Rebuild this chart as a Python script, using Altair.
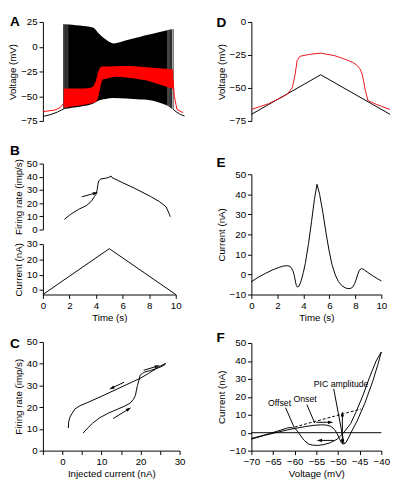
import altair as alt
import pandas as pd

FONT = "Liberation Sans"
ARROW = "M0,-1L0.6,1L-0.6,1Z"

# ---------------- Panel A: voltage with spikes (black) and red trace ----------------
a_pre_t = [0, 0.6, 1.1, 1.4, 1.57]
a_pre_black = [-70.5, -68.5, -66, -64, -63]
a_post_t = [9.84, 10.1, 10.4, 10.7]
a_post_black = [-63.3, -66, -68.5, -70]
a_env_t = [1.9, 2.5, 3.06, 3.78, 4.26, 4.73, 5.34, 6.3, 7.37, 7.86, 8.6, 9.4]
a_env_top = [22.5, 21.8, 21.0, 19.5, 13.0, 7.5, 3.3, 6.5, 10.1, 11.8, 14.2, 16.8]
a_env_bot = [-62.4, -61.2, -60.0, -57.5, -54.1, -52.8, -51.9, -52.4, -53.2, -53.5, -55.5, -59.5]
a_spk_t = [1.57, 1.64, 1.71, 1.78, 1.85, 1.9, 9.4, 9.48, 9.56, 9.64, 9.72, 9.84]
a_spk_top = [22.8, 22.7, 22.7, 22.6, 22.6, 22.5, 16.8, 17.1, 17.3, 17.5, 17.7, 17.9]
a_spk_bot = [-63.3, -63, -62.9, -62.7, -62.5, -62.4, -59.5, -60.2, -61, -61.8, -62.5, -63.3]
a_red_pre_t = [0, 0.9, 1.3, 1.57]
a_red_pre_v = [-65.6, -64, -61.5, -57]
a_red_t = [1.57, 3.06, 3.42, 3.78, 3.99, 4.14, 4.28, 4.37, 4.5, 5.45, 5.94, 6.65, 7.86, 8.09, 9.77, 9.84]
a_red_up = [-42.3, -42.2, -42, -40.7, -35, -27, -22, -20.5, -20, -19.6, -19.5, -19.5, -20.7, -21, -22.7, -23]
a_red_lo = [-61.6, -59, -58, -56.8, -55.5, -53, -45, -39, -33, -30.2, -30.5, -31.5, -34, -35, -42.2, -43]
a_red_post_t = [9.84, 9.93, 10.13, 10.49, 10.6]
a_red_post_v = [-33, -50, -63.3, -66, -66.3]

# ---------------- Panel B: firing rate and injected current vs time ----------------
bf_t = [1.61, 2.09, 2.69, 3.29, 3.65, 3.88, 4.0, 4.07, 4.14, 4.2, 4.36, 4.72, 4.96, 5.13, 5.2,
        5.92, 6.88, 8.08, 8.8, 9.28, 9.52, 9.59]
bf_r = [7.7, 11.6, 15.3, 18.3, 21.5, 25.0, 26.8, 29.5, 34.0, 36.9, 38.4, 38.9, 39.6, 40.6, 39.4,
        35.9, 31.4, 25.2, 21.0, 17.1, 11.6, 9.7]
b_arrow = {"x1": [2.93], "y1": [24.8], "x2": [3.96], "y2": [27.7], "ang": [74]}
bc_t = [0, 5, 10]
bc_i = [-3, 27, -3]

# ---------------- Panel C: firing rate vs injected current ----------------
c_i = [5.3, 6.5, 7.7, 9.5, 11.8, 14, 15.8, 17.3, 18.2, 18.7, 18.9, 19.2, 19.6, 19.9, 20.5, 21.1,
       22.5, 23.9, 25.2, 26.2, 26.4, 25.5, 22, 19.9, 15, 10.1, 6.5, 4.5, 3.2, 2.4, 1.9, 1.6, 1.5]
c_r = [8.1, 10.5, 12.6, 15.1, 17.3, 19, 20.4, 21.8, 23.7, 25.5, 27.4, 30, 32.5, 34.8, 35.6, 36.2,
       36.9, 37.7, 38.6, 39.5, 40.2, 39.4, 35.5, 33.3, 29.2, 25.1, 22.2, 20.7, 19.2, 17, 15.3, 13.3, 10.4]
c_arrow = {"x1": [20.8, 15.8, 13.0], "y1": [37.0, 31.5, 14.8],
           "x2": [24.3, 12.6, 17.0], "y2": [38.9, 28.8, 19.2], "ang": [73, 246, 59]}

# ---------------- Panel D: voltage ramp (black) and response (red) ----------------
d_t = [0, 5, 10]
d_black = [-70, -40, -70]
d_red_t = [0, 1.25, 2.05, 2.6, 2.95, 3.15, 3.3, 3.5, 4.2, 5, 6.0, 6.7, 7.3, 7.6, 7.8, 7.97, 8.1,
           8.2, 8.4, 8.8, 9.4, 10]
d_red_v = [-66.3, -61.9, -57.8, -54.6, -49.8, -40, -29.1, -26, -24.5, -23.6, -25.5, -28, -30.5,
           -32.7, -35, -38.8, -45, -51, -59.5, -61.5, -64, -66.3]

# ---------------- Panel E: current vs time ----------------
e_t = [0, 0.5, 1.1, 1.6, 2.07, 2.4, 2.7, 2.9, 3.05, 3.2, 3.3, 3.4, 3.46, 3.54, 3.65, 3.8, 4.0,
       4.15, 4.4, 4.63, 4.85, 5.05, 5.25, 5.5, 5.75, 5.98, 6.2, 6.46, 6.7, 6.95, 7.2, 7.44, 7.65,
       7.8, 7.95, 8.05, 8.2, 8.3, 8.46, 8.6, 8.9, 9.3, 9.7, 10]
e_i = [-3.6, -1.5, 0.6, 2.2, 3.4, 4.1, 4.4, 4.2, 3.6, 1.8, -0.5, -3.8, -5.5, -6.3, -5.9, -3.8, 1.0,
       5.5, 15.5, 26.4, 37.5, 45, 40, 31, 20.5, 11.8, 5, -0.3, -3.6, -5.5, -6.6, -7.1, -6.9,
       -6.3, -4.5, -2.8, 0.3, 2.1, 2.9, 2.7, 1.3, -0.5, -2.1, -3.2]

# ---------------- Panel F: current vs voltage ----------------
f_v = [-70, -67, -63.4, -60.4, -57.6, -55.6, -53.8, -52.6, -51.7, -50.8, -50.2, -49.6, -49.24,
       -48.76, -48.2, -47.6, -46.7, -45.6, -43.8, -42.0, -40.8, -40,
       -41.2, -42.7, -44.3, -45.8, -47.1, -48.8, -50.2, -51.7, -53.2, -54.6, -55.9, -56.8, -57.7,
       -58.3, -59.2, -59.8, -60.8, -61.6, -63.4, -65.8, -68.2, -70]
f_i = [-3.6, -1.5, 0.6, 2.2, 3.4, 4.1, 4.4, 4.2, 3.6, 1.8, -0.5, -3.8, -5.5, -6.3, -5.6, -3.0, 1.5,
       6.5, 16.5, 28.5, 38.0, 45,
       40, 31, 20.5, 11.8, 5, -0.3, -3.6, -5.5, -6.6, -7.1, -6.9, -6.3, -4.5, -2.8, 0.3, 2.1,
       2.9, 2.7, 1.3, -0.5, -2.1, -3.2]
f_zero_v = [-70, -40]
f_zero_i = [0, 0]
f_dash_v = [-60.0, -44.7]
f_dash_i = [3.2, 13.2]
f_lines = {"x1": [-62.1, -57.2, -51.0, -55.0, -51.0, -49.0],
           "y1": [13.9, 15.7, 24.5, 5.8, -4.3, -5.2],
           "x2": [-60.1, -55.4, -48.6, -51.7, -54.3, -49.0],
           "y2": [2.8, 5.5, -6.3, 5.8, -4.3, 10.5]}
f_heads = {"x": [-51.7, -54.3, -49.0, -49.0], "y": [5.8, -4.3, 10.5, -5.2], "ang": [90, 270, 0, 180]}
f_labels = {"txt": ["Offset", "Onset", "PIC amplitude"], "x": [-63.5, -57.6, -49.3], "y": [16.5, 18.9, 27.2]}


# ---------------- helpers ----------------
def letter(ch, x, y):
    return alt.Chart(pd.DataFrame({"s": [ch]})).mark_text(
        font=FONT, fontSize=14, fontWeight="bold", align="left", baseline="alphabetic", color="black"
    ).encode(text="s:N", x=alt.value(x), y=alt.value(y))


def enc(xscale, yscale, xaxis, yaxis):
    def X(f):
        return alt.X(f, type="quantitative", scale=xscale, axis=xaxis)

    def Y(f):
        return alt.Y(f, type="quantitative", scale=yscale, axis=yaxis)
    return X, Y


def line(df, X, Y, xf, yf, color="black", **kw):
    return alt.Chart(df).mark_line(color=color, strokeWidth=1, **kw).encode(x=X(xf), y=Y(yf))


def arrows(d, X, Y):
    df = pd.DataFrame(d)
    shafts = alt.Chart(df).mark_rule(color="black", strokeWidth=1).encode(
        x=X("x1"), y=Y("y1"), x2="x2:Q", y2="y2:Q")
    heads = alt.Chart(df).mark_point(shape=ARROW, filled=True, size=30, color="black", opacity=1,
                                     strokeWidth=0).encode(
        x=X("x2"), y=Y("y2"), angle=alt.Angle("ang:Q", scale=None))
    return shafts + heads


def sc(dom, rng=None):
    if rng is None:
        return alt.Scale(domain=dom, nice=False, zero=False)
    return alt.Scale(domain=dom, range=rng, nice=False, zero=False)


# ---------------- Panel A ----------------
XA, YA = enc(sc([0, 10.7]), sc([-75, 25], [102, 0]), None,
             alt.Axis(title="Voltage (mV)", values=[-75, -50, -25, 0, 25]))
dfa_black = pd.DataFrame({"t": a_pre_t + a_post_t, "v": a_pre_black + a_post_black,
                          "seg": ["pre"] * len(a_pre_t) + ["post"] * len(a_post_t)})
dfa_red = pd.DataFrame({"t": a_red_pre_t + a_red_post_t, "v": a_red_pre_v + a_red_post_v,
                        "seg": ["pre"] * len(a_red_pre_t) + ["post"] * len(a_red_post_t)})
A = alt.layer(
    alt.Chart(dfa_black).mark_line(color="black", strokeWidth=1).encode(x=XA("t"), y=YA("v"), detail="seg:N"),
    alt.Chart(pd.DataFrame({"t": a_env_t, "top": a_env_top, "bot": a_env_bot})).mark_area(
        color="black", opacity=1, interpolate="monotone").encode(x=XA("t"), y=YA("top"), y2="bot:Q"),
    alt.Chart(pd.DataFrame({"t": a_spk_t, "top": a_spk_top, "bot": a_spk_bot})).mark_rule(
        color="#222222", strokeWidth=1).encode(x=XA("t"), y=YA("top"), y2="bot:Q"),
    alt.Chart(dfa_red).mark_line(color="#ff0000", strokeWidth=1).encode(x=XA("t"), y=YA("v"), detail="seg:N"),
    alt.Chart(pd.DataFrame({"t": a_red_t, "up": a_red_up, "lo": a_red_lo})).mark_area(
        color="#ff0000", opacity=1).encode(x=XA("t"), y=YA("up"), y2="lo:Q"),
    letter("A", -34, 4),
).properties(width=146, height=146)

# ---------------- Panel B (firing rate) ----------------
XB, YBf = enc(sc([0, 10]), sc([0, 50], [68, 0]), None,
              alt.Axis(title="Firing rate (imp/s)", values=[0, 10, 20, 30, 40, 50]))
Bf = alt.layer(
    line(pd.DataFrame({"t": bf_t, "r": bf_r}), XB, YBf, "t", "r"),
    arrows(b_arrow, XB, YBf),
    letter("B", -34, -9),
).properties(width=137, height=83)

# ---------------- Panel B (current) ----------------
XBc, YBc = enc(sc([0, 10]), sc([-3, 30], [52, 0]),
               alt.Axis(title="Time (s)", values=[0, 2, 4, 6, 8, 10]),
               alt.Axis(title="Current (nA)", values=[0, 10, 20, 30]))
Bc = line(pd.DataFrame({"t": bc_t, "i": bc_i}), XBc, YBc, "t", "i").properties(width=137, height=52)

# ---------------- Panel C ----------------
XC, YC = enc(sc([-5, 30]), sc([0, 50], [161, 49]),
             alt.Axis(title="Injected current (nA)", values=[-5, 0, 5, 10, 15, 20, 25, 30],
                      labelExpr="datum.value % 10 === 0 ? datum.label : ''"),
             alt.Axis(title="Firing rate (imp/s)", values=[0, 10, 20, 30, 40, 50]))
C = alt.layer(
    alt.Chart(pd.DataFrame({"i": c_i, "r": c_r, "k": list(range(len(c_i)))})).mark_line(
        color="black", strokeWidth=1).encode(x=XC("i"), y=YC("r"), order="k:Q"),
    arrows(c_arrow, XC, YC),
    letter("C", -34, 55),
).properties(width=141, height=161)

# ---------------- Panel D ----------------
XD, YD = enc(sc([0, 10]), sc([-75, 0], [102, 0]), None,
             alt.Axis(title="Voltage (mV)", values=[-75, -50, -25, 0]))
D = alt.layer(
    line(pd.DataFrame({"t": d_t, "v": d_black}), XD, YD, "t", "v"),
    line(pd.DataFrame({"t": d_red_t, "v": d_red_v}), XD, YD, "t", "v", color="#e8101a"),
    letter("D", -36, 5),
).properties(width=143, height=157)

# ---------------- Panel E ----------------
XE, YE = enc(sc([0, 10]), sc([-10, 50], [124, 0]),
             alt.Axis(title="Time (s)", values=[0, 2, 4, 6, 8, 10]),
             alt.Axis(title="Current (nA)", values=[-10, 0, 10, 20, 30, 40, 50]))
E = alt.layer(
    line(pd.DataFrame({"t": e_t, "i": e_i}), XE, YE, "t", "i"),
    letter("E", -36, -8),
).properties(width=134, height=124)

# ---------------- Panel F ----------------
XF, YF = enc(sc([-70, -40]), sc([-10, 50], [161, 50]),
             alt.Axis(title="Voltage (mV)", values=[-70, -65, -60, -55, -50, -45, -40]),
             alt.Axis(title="Current (nA)", values=[-10, 0, 10, 20, 30, 40, 50]))
F = alt.layer(
    line(pd.DataFrame({"v": f_zero_v, "i": f_zero_i}), XF, YF, "v", "i"),
    line(pd.DataFrame({"v": f_dash_v, "i": f_dash_i}), XF, YF, "v", "i", strokeDash=[3, 2]),
    alt.Chart(pd.DataFrame({"v": f_v, "i": f_i, "k": list(range(len(f_v)))})).mark_line(
        color="black", strokeWidth=1).encode(x=XF("v"), y=YF("i"), order="k:Q"),
    alt.Chart(pd.DataFrame(f_lines)).mark_rule(color="black", strokeWidth=1).encode(
        x=XF("x1"), y=YF("y1"), x2="x2:Q", y2="y2:Q"),
    alt.Chart(pd.DataFrame(f_heads)).mark_point(shape=ARROW, filled=True, size=30, color="black",
                                                opacity=1, strokeWidth=0).encode(
        x=XF("x"), y=YF("y"), angle=alt.Angle("ang:Q", scale=None)),
    alt.Chart(pd.DataFrame(f_labels)).mark_text(font=FONT, fontSize=9, color="black",
                                                align="center", baseline="middle").encode(
        x=XF("x"), y=YF("y"), text="txt:N"),
    letter("F", -36, 49),
).properties(width=134, height=161)

left = alt.vconcat(A, Bf, Bc, C, spacing=0, bounds="flush")
right = alt.vconcat(D, E, F, spacing=0, bounds="flush")

chart = alt.hconcat(left, right, spacing=31).properties(padding=0).configure_view(
    stroke=None
).configure_axis(
    grid=False, domainColor="black", tickColor="black", labelColor="black", titleColor="black",
    labelFont=FONT, titleFont=FONT, labelFontSize=10, titleFontSize=10, titleFontWeight="normal",
    tickSize=4, labelPadding=2, titlePadding=3, domainWidth=1, tickWidth=1
).configure_axisX(labelFlush=False)

chart.save("out.html", embed_options={"renderer": "svg", "actions": False})
